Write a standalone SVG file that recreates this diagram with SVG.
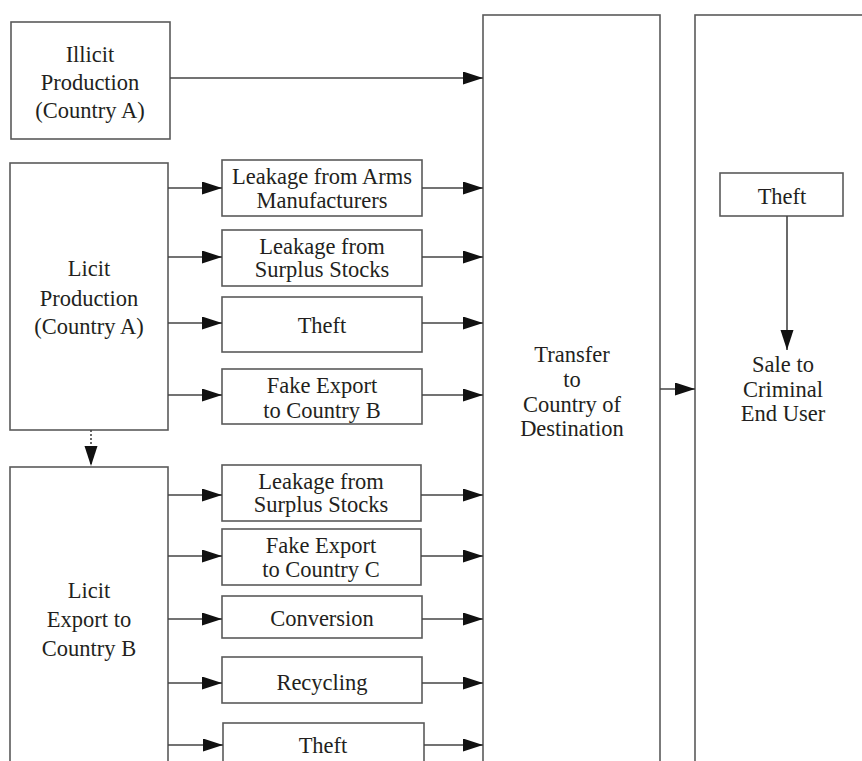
<svg xmlns="http://www.w3.org/2000/svg" width="862" height="761" viewBox="0 0 862 761">
<defs>
<style>
.box{fill:#fff;stroke:#5a5a5a;stroke-width:1.6}
.t{font-family:'Liberation Serif','Times New Roman','DejaVu Serif',serif;font-size:22.5px;fill:#231f20;text-anchor:middle}
.c{stroke:#444;stroke-width:1.6;fill:none}
</style>
<marker id="ah" markerUnits="userSpaceOnUse" markerWidth="21" markerHeight="14" refX="20" refY="6.5" orient="auto">
<path d="M0,0 L20,6.5 L0,13 z" fill="#111"/>
</marker>
</defs>
<rect width="862" height="761" fill="#fff"/>
<g id="illicit"><rect class="box" x="11" y="22" width="159" height="117"/>
<text class="t" x="90" y="62">Illicit</text><text class="t" x="90" y="90">Production</text><text class="t" x="90" y="118">(Country A)</text></g>
<g id="licit-prod"><rect class="box" x="10" y="163" width="158" height="267"/>
<text class="t" x="89" y="276">Licit</text><text class="t" x="89" y="306">Production</text><text class="t" x="89" y="334">(Country A)</text></g>
<g id="licit-export"><rect class="box" x="10" y="467" width="158" height="320"/>
<text class="t" x="89" y="598">Licit</text><text class="t" x="89" y="627">Export to</text><text class="t" x="89" y="656">Country B</text></g>
<g id="u1"><rect class="box" x="222" y="160" width="200" height="56"/>
<text class="t" x="322" y="184">Leakage from Arms</text><text class="t" x="322" y="208">Manufacturers</text></g>
<g id="u2"><rect class="box" x="222" y="230" width="200" height="56"/>
<text class="t" x="322" y="254">Leakage from</text><text class="t" x="322" y="277">Surplus Stocks</text></g>
<g id="u3"><rect class="box" x="222" y="297" width="200" height="55"/>
<text class="t" x="322" y="333">Theft</text></g>
<g id="u4"><rect class="box" x="222" y="369" width="200" height="55"/>
<text class="t" x="322" y="393">Fake Export</text><text class="t" x="322" y="418">to Country B</text></g>
<g id="l1"><rect class="box" x="222" y="465" width="199" height="56"/>
<text class="t" x="321" y="489">Leakage from</text><text class="t" x="321" y="512">Surplus Stocks</text></g>
<g id="l2"><rect class="box" x="222" y="529" width="199" height="56"/>
<text class="t" x="321" y="553">Fake Export</text><text class="t" x="321" y="577">to Country C</text></g>
<g id="l3"><rect class="box" x="222" y="596" width="200" height="42"/>
<text class="t" x="322" y="626">Conversion</text></g>
<g id="l4"><rect class="box" x="222" y="657" width="200" height="46"/>
<text class="t" x="322" y="690">Recycling</text></g>
<g id="l5"><rect class="box" x="223" y="723" width="201" height="60"/>
<text class="t" x="323" y="753">Theft</text></g>
<g id="transfer"><rect class="box" x="483" y="15" width="177" height="800"/>
<text class="t" x="572" y="362">Transfer</text><text class="t" x="572" y="387">to</text><text class="t" x="572" y="412">Country of</text><text class="t" x="572" y="436">Destination</text></g>
<g id="sale"><rect class="box" x="695" y="15" width="220" height="800"/>
<text class="t" x="783" y="372">Sale to</text><text class="t" x="783" y="397">Criminal</text><text class="t" x="783" y="421">End User</text></g>
<g id="theft-top"><rect class="box" x="720" y="173" width="123" height="43"/>
<text class="t" x="782" y="204">Theft</text></g>
<g id="connectors">
<line class="c" x1="170" y1="78" x2="483" y2="78" marker-end="url(#ah)"/>
<line class="c" x1="168" y1="188" x2="222" y2="188" marker-end="url(#ah)"/>
<line class="c" x1="168" y1="257" x2="222" y2="257" marker-end="url(#ah)"/>
<line class="c" x1="168" y1="323" x2="222" y2="323" marker-end="url(#ah)"/>
<line class="c" x1="168" y1="395" x2="222" y2="395" marker-end="url(#ah)"/>
<line class="c" x1="422" y1="188" x2="483" y2="188" marker-end="url(#ah)"/>
<line class="c" x1="422" y1="257" x2="483" y2="257" marker-end="url(#ah)"/>
<line class="c" x1="422" y1="323" x2="483" y2="323" marker-end="url(#ah)"/>
<line class="c" x1="422" y1="395" x2="483" y2="395" marker-end="url(#ah)"/>
<line class="c" x1="168" y1="495" x2="222" y2="495" marker-end="url(#ah)"/>
<line class="c" x1="168" y1="556" x2="222" y2="556" marker-end="url(#ah)"/>
<line class="c" x1="168" y1="619" x2="222" y2="619" marker-end="url(#ah)"/>
<line class="c" x1="168" y1="683" x2="222" y2="683" marker-end="url(#ah)"/>
<line class="c" x1="168" y1="745" x2="223" y2="745" marker-end="url(#ah)"/>
<line class="c" x1="421" y1="495" x2="483" y2="495" marker-end="url(#ah)"/>
<line class="c" x1="421" y1="556" x2="483" y2="556" marker-end="url(#ah)"/>
<line class="c" x1="422" y1="619" x2="483" y2="619" marker-end="url(#ah)"/>
<line class="c" x1="422" y1="683" x2="483" y2="683" marker-end="url(#ah)"/>
<line class="c" x1="424" y1="745" x2="483" y2="745" marker-end="url(#ah)"/>
<line class="c" x1="660" y1="389" x2="695" y2="389" marker-end="url(#ah)"/>
<line class="c" x1="787" y1="216" x2="787" y2="350" marker-end="url(#ah)"/>
<line class="c" x1="91" y1="430" x2="91" y2="466" stroke-dasharray="2,2" marker-end="url(#ah)"/>
</g>
</svg>
